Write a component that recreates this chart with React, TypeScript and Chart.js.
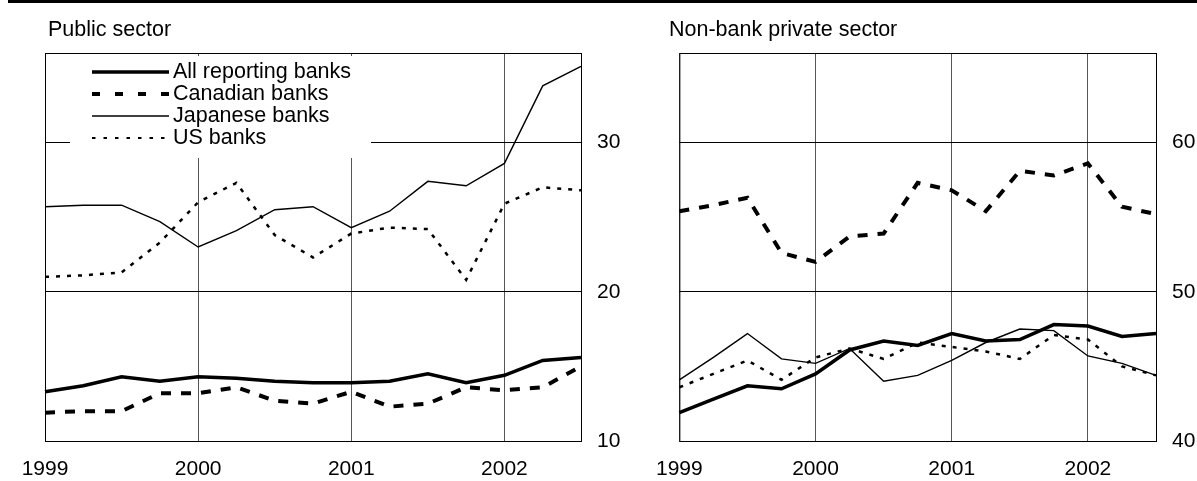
import React, { useEffect, useRef } from 'react';
import { Chart, registerables } from 'chart.js';

Chart.register(...registerables);

// ---------- data ----------
const quarters = [
  '1999 Q1', '1999 Q2', '1999 Q3', '1999 Q4',
  '2000 Q1', '2000 Q2', '2000 Q3', '2000 Q4',
  '2001 Q1', '2001 Q2', '2001 Q3', '2001 Q4',
  '2002 Q1', '2002 Q2', '2002 Q3',
];
const yearTickLabels = ['1999', '2000', '2001', '2002'];

const seriesNames = ['All reporting banks', 'Canadian banks', 'Japanese banks', 'US banks'];

const publicAll = [13.3, 13.7, 14.3, 14.0, 14.3, 14.2, 14.0, 13.9, 13.9, 14.0, 14.5, 13.9, 14.4, 15.4, 15.6];
const publicCanadian = [11.9, 12.0, 12.0, 13.2, 13.2, 13.6, 12.7, 12.5, 13.3, 12.3, 12.5, 13.6, 13.4, 13.6, 15.0];
const publicJapanese = [25.7, 25.8, 25.8, 24.7, 23.0, 24.1, 25.5, 25.7, 24.3, 25.4, 27.4, 27.1, 28.6, 33.8, 35.1];
const publicUS = [21.0, 21.1, 21.3, 23.3, 26.0, 27.3, 23.8, 22.3, 23.9, 24.3, 24.2, 20.8, 25.9, 27.0, 26.8];

const privateAll = [41.9, 42.8, 43.7, 43.5, 44.5, 46.1, 46.7, 46.4, 47.2, 46.7, 46.8, 47.8, 47.7, 47.0, 47.2];
const privateCanadian = [55.4, 55.8, 56.3, 52.6, 52.0, 53.7, 53.9, 57.3, 56.8, 55.4, 58.1, 57.8, 58.6, 55.7, 55.2];
const privateJapanese = [44.1, 45.6, 47.2, 45.5, 45.2, 46.2, 44.0, 44.4, 45.4, 46.6, 47.5, 47.4, 45.7, 45.2, 44.4];
const privateUS = [43.6, 44.5, 45.4, 44.1, 45.6, 46.2, 45.5, 46.6, 46.3, 46.0, 45.5, 47.1, 46.8, 45.0, 44.4];

const publicTicks = [10, 20, 30];
const privateTicks = [40, 50, 60];

// ---------- styles ----------
const FONT = '"Liberation Sans", Arial, Helvetica, sans-serif';
const seriesStyles = [
  { borderWidth: 3.5, borderDash: [] as number[], legendDash: [] as number[], legendWidth: 3.5 },
  { borderWidth: 4, borderDash: [10, 10], legendDash: [8, 15], legendWidth: 4 },
  { borderWidth: 1.4, borderDash: [] as number[], legendDash: [] as number[], legendWidth: 1.4 },
  { borderWidth: 2.5, borderDash: [4, 7], legendDash: [3.5, 8], legendWidth: 2 },
];

function buildDatasets(values: number[][]) {
  return values.map((v, i) => ({
    label: seriesNames[i],
    data: v,
    borderColor: '#000',
    backgroundColor: '#000',
    borderWidth: seriesStyles[i].borderWidth,
    borderDash: seriesStyles[i].borderDash,
    pointRadius: 0,
    tension: 0,
    fill: false,
  }));
}

function makeOverlay(title: string, titleX: number, showLegend: boolean) {
  return {
    id: 'overlay',
    beforeDatasetsDraw(chart: any) {
      if (!showLegend) return;
      const { ctx, chartArea: a } = chart;
      ctx.save();
      ctx.fillStyle = '#fff';
      ctx.fillRect(a.left + 25, a.top + 3, 301, 102);
      ctx.restore();
    },
    afterDraw(chart: any) {
      const { ctx, chartArea: a } = chart;
      ctx.save();
      ctx.strokeStyle = '#000';
      ctx.lineWidth = 1;
      ctx.setLineDash([]);
      ctx.strokeRect(a.left + 0.5, a.top + 0.5, a.right - a.left, a.bottom - a.top);
      ctx.fillStyle = '#000';
      ctx.font = `21.5px ${FONT}`;
      ctx.textBaseline = 'alphabetic';
      ctx.textAlign = 'left';
      ctx.fillText(title, titleX, 36);
      if (showLegend) {
        const ds = chart.data.datasets;
        ctx.font = `21.5px ${FONT}`;
        ds.forEach((d: any, i: number) => {
          const y = a.top + 19 + i * 22;
          ctx.beginPath();
          ctx.lineWidth = seriesStyles[i].legendWidth;
          ctx.setLineDash(seriesStyles[i].legendDash);
          ctx.moveTo(a.left + 47, y);
          ctx.lineTo(a.left + 124, y);
          ctx.stroke();
          ctx.setLineDash([]);
          ctx.textBaseline = 'middle';
          ctx.fillText(d.label, a.left + 128, y);
        });
      }
      ctx.restore();
    },
  };
}

function makeConfig(
  values: number[][],
  yMin: number,
  yMax: number,
  yTicks: number[],
  padLeft: number,
  yAxisWidth: number,
  title: string,
  titleX: number,
  showLegend: boolean,
): any {
  return {
    type: 'line',
    data: { labels: quarters, datasets: buildDatasets(values) },
    options: {
      responsive: false,
      animation: false,
      events: [],
      layout: { padding: { left: padLeft, top: 53, right: 0, bottom: 0 } },
      plugins: { legend: { display: false }, tooltip: { enabled: false }, title: { display: false } },
      scales: {
        x: {
          type: 'category',
          offset: false,
          afterBuildTicks: (s: any) => {
            s.ticks = yearTickLabels.map((y) => ({ value: quarters.indexOf(y + ' Q1') }));
          },
          afterFit: (s: any) => { s.height = 40; },
          ticks: {
            autoSkip: false,
            maxRotation: 0,
            minRotation: 0,
            padding: 16,
            color: '#000',
            font: { family: FONT, size: 21 },
            callback: (v: any) => quarters[v].slice(0, 4),
          },
          grid: { color: '#555', lineWidth: 1, drawTicks: false },
          border: { display: false },
        },
        y: {
          type: 'linear',
          position: 'right',
          min: yMin,
          max: yMax,
          afterBuildTicks: (s: any) => {
            s.ticks = yTicks.map((v) => ({ value: v }));
          },
          afterFit: (s: any) => { s.width = yAxisWidth; },
          ticks: {
            padding: 16,
            color: '#000',
            font: { family: FONT, size: 21 },
            callback: (v: any) => String(v),
          },
          grid: { color: '#000', lineWidth: 1, drawTicks: false },
          border: { display: false },
        },
      },
    },
    plugins: [makeOverlay(title, titleX, showLegend)],
  };
}

function Panel(props: { left: number; width: number; config: any }) {
  const ref = useRef<HTMLCanvasElement | null>(null);
  useEffect(() => {
    if (!ref.current) return;
    const chart = new Chart(ref.current, props.config);
    return () => chart.destroy();
  }, []);
  return (
    <canvas
      ref={ref}
      width={props.width}
      height={481}
      style={{ position: 'absolute', left: props.left, top: 0, width: props.width, height: 481 }}
    />
  );
}

export default function App() {
  const leftConfig = makeConfig(
    [publicAll, publicCanadian, publicJapanese, publicUS],
    10, 36, publicTicks, 45, 59, 'Public sector', 48, true,
  );
  const rightConfig = makeConfig(
    [privateAll, privateCanadian, privateJapanese, privateUS],
    40, 66, privateTicks, 29, 41, 'Non-bank private sector', 29, false,
  );
  return (
    <div style={{ position: 'absolute', left: 0, top: 0, width: 1197, height: 481, background: '#fff', overflow: 'hidden' }}>
      <div style={{ position: 'absolute', left: 8, top: 0, width: 1189, height: 3, background: '#000' }} />
      <Panel left={0} width={640} config={leftConfig} />
      <Panel left={640} width={557} config={rightConfig} />
    </div>
  );
}
